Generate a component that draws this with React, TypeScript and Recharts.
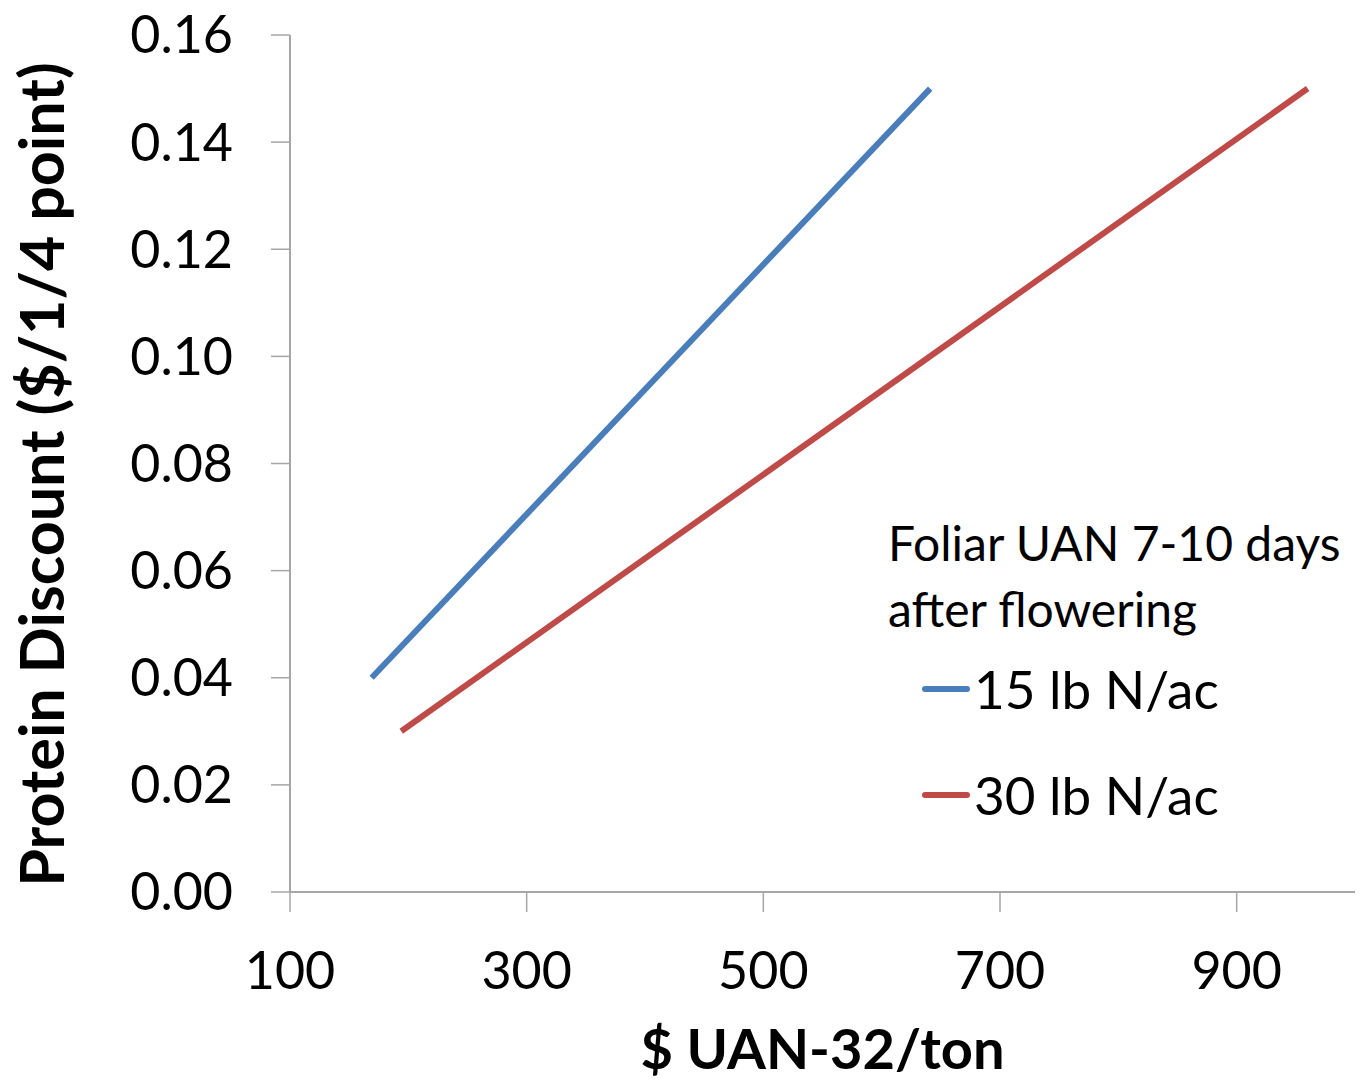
import React from 'react';
import { LineChart, Line, XAxis, YAxis } from 'recharts';

const FONT = 'Lato, "Open Sans", sans-serif';

// $ UAN-32/ton at the two ends of each line
const lb15Cost = [169, 641];
const lb15Discount = [0.04, 0.15];
const lb30Cost = [194, 960];
const lb30Discount = [0.03, 0.15];

const xTicks = [100, 300, 500, 700, 900];
const yTicks = [0, 0.02, 0.04, 0.06, 0.08, 0.1, 0.12, 0.14, 0.16];

const SERIES = [
  { key: 'lb15', name: '15 lb N/ac', color: '#4A7EBB' },
  { key: 'lb30', name: '30 lb N/ac', color: '#BE4B48' },
];

const lb15Data = lb15Cost.map((x, i) => ({ x, y: lb15Discount[i] }));
const lb30Data = lb30Cost.map((x, i) => ({ x, y: lb30Discount[i] }));

const AXIS_COLOR = '#A6A6A6';

function LegendBox() {
  return (
    <div
      style={{
        position: 'absolute',
        left: 888,
        top: 510,
        fontFamily: FONT,
        fontSize: 48,
        color: '#000',
        lineHeight: '66px',
        whiteSpace: 'nowrap',
      }}
    >
      <div>Foliar UAN 7-10 days</div>
      <div>after flowering</div>
      {SERIES.map((s, i) => (
        <div
          key={s.key}
          style={{
            display: 'flex',
            alignItems: 'center',
            fontSize: 53,
            marginTop: i === 0 ? 14 : 40,
            marginLeft: 34,
          }}
        >
          <div style={{ width: 48, height: 6, borderRadius: 3, background: s.color, marginRight: 4 }} />
          <span>{s.name}</span>
        </div>
      ))}
    </div>
  );
}

function YTitle(props: any) {
  const vb = props.viewBox || {};
  const cx = 40;
  const cy = vb.y + vb.height / 2 + 11;
  return (
    <text
      x={cx}
      y={cy}
      transform={`rotate(-90 ${cx} ${cy})`}
      textAnchor="middle"
      dominantBaseline="central"
      style={{ fontFamily: FONT, fontSize: 61, fontWeight: 700, fill: '#000' }}
    >
      Protein Discount ($/1/4 point)
    </text>
  );
}

export default function App() {
  return (
    <div style={{ position: 'absolute', left: 0, top: 0, width: 1364, height: 1081, background: '#fff' }}>
      <LineChart width={1364} height={1081} margin={{ top: 35, right: 9, bottom: 0, left: 0 }}>
        <XAxis
          type="number"
          dataKey="x"
          domain={[100, 1000]}
          ticks={xTicks}
          allowDataOverflow
          height={189}
          stroke={AXIS_COLOR}
          strokeWidth={2}
          tickSize={20}
          tickMargin={40}
          tickLine={{ stroke: AXIS_COLOR, strokeWidth: 1.5 }}
          tick={{ fill: '#000', fontSize: 52, fontFamily: FONT }}
          label={{
            value: '$ UAN-32/ton',
            position: 'insideBottom',
            offset: 12,
            style: { fontFamily: FONT, fontSize: 56, fontWeight: 700, fill: '#000' },
          }}
        />
        <YAxis
          type="number"
          dataKey="y"
          domain={[0, 0.16]}
          ticks={yTicks}
          width={290}
          stroke={AXIS_COLOR}
          strokeWidth={2}
          tickSize={19}
          tickMargin={38}
          tickLine={{ stroke: AXIS_COLOR, strokeWidth: 1.5 }}
          tick={{ fill: '#000', fontSize: 52, fontFamily: FONT }}
          tickFormatter={(v: number) => v.toFixed(2)}
          label={<YTitle />}
        />
        <Line
          data={lb15Data}
          dataKey="y"
          name={SERIES[0].name}
          stroke={SERIES[0].color}
          strokeWidth={6}
          dot={false}
          isAnimationActive={false}
        />
        <Line
          data={lb30Data}
          dataKey="y"
          name={SERIES[1].name}
          stroke={SERIES[1].color}
          strokeWidth={6}
          dot={false}
          isAnimationActive={false}
        />
      </LineChart>
      <LegendBox />
    </div>
  );
}
